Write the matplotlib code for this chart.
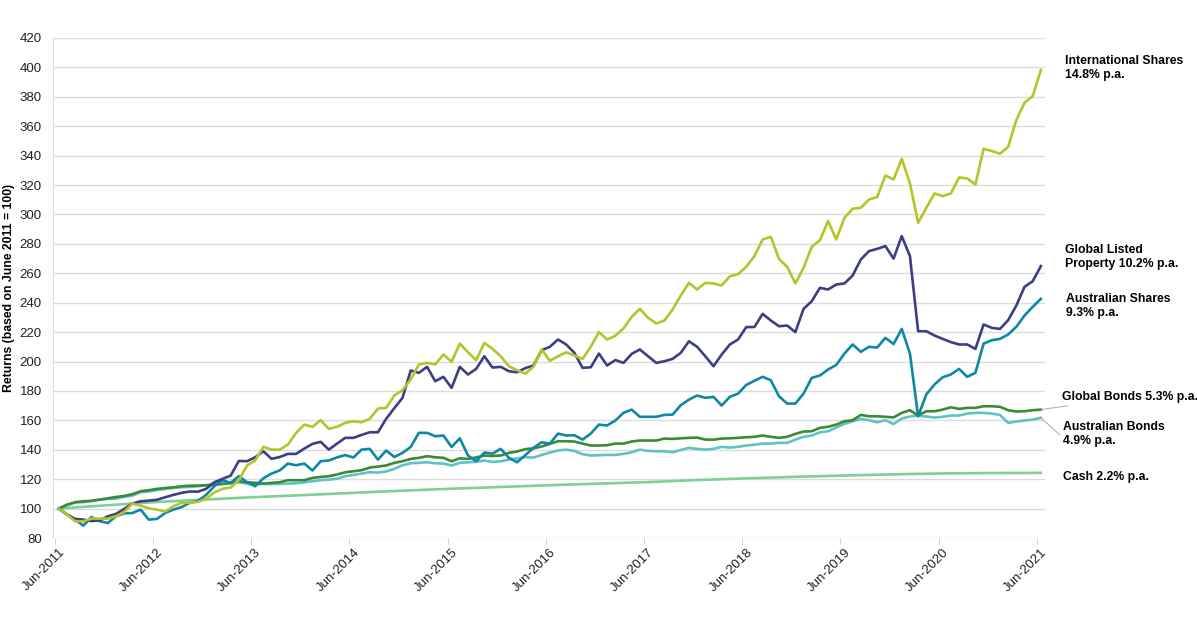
import matplotlib.pyplot as plt
import numpy as np

plt.rcParams['font.family'] = ['Liberation Sans', 'DejaVu Sans']

# monthly index values, Jun-2011 = 100 (121 months to Jun-2021)
intl_shares = [
    100, 96, 91.4, 91.4, 93.2, 93.2, 93.2, 94.8, 97.7, 103.4, 102, 100.2,
    99.3, 98, 101.6, 103.9, 104, 104.5, 106.6, 111, 113.4, 114.3, 119.3, 129.3,
    132.7, 142, 140.1, 140.1, 143.5, 151.5, 157.1, 155.6, 160.1, 154.2, 155.6, 158.3,
    159.4, 158.7, 161, 168, 168.5, 176.9, 180.5, 187.8, 198, 199.1, 198, 204.8,
    199.8, 212.2, 206.3, 200.9, 212.7, 208.6, 203.6, 196.8, 194.1, 191.8, 196.4, 208.2,
    200.5, 203.6, 206.3, 204.1, 201.8, 210, 220, 215, 217.5, 222.5, 230.4, 235.8,
    229.7, 225.9, 227.9, 235.4, 244.9, 253.5, 249, 253.5, 253.1, 251.7, 258, 259.4,
    264.4, 271.7, 283, 284.8, 269.8, 264.4, 253.1, 263.7, 278, 282.5, 295.5, 283,
    297.7, 303.9, 304.5, 310.2, 311.8, 326.5, 323.8, 337.9, 321.1, 294.3, 304.5, 314.3,
    312.5, 314.3, 325.2, 324.5, 320.4, 344.7, 343.1, 341.3, 346, 364.2, 376, 380.5,
    398.2]

global_property = [
    100, 96, 93, 92.5, 91.5, 92, 94.8, 96.4, 99.8, 103.4, 105, 105.4,
    106, 107.7, 109.3, 110.7, 111.6, 111.5, 113.4, 117.9, 120.2, 122.4, 132.4, 132.2,
    134.9, 139, 133.8, 135.1, 137.2, 137.2, 140.8, 144, 145.4, 140.1, 144.2, 148.1,
    148.1, 150.1, 151.9, 151.9, 161, 168.3, 175.3, 193.9, 192.3, 196.4, 186.6, 189.6,
    182.1, 196.4, 191.2, 195, 203.6, 195.9, 196.4, 193.4, 192.7, 195.5, 197.3, 207.7,
    210, 215, 211.6, 205.9, 195.7, 196.1, 205.4, 197.3, 201, 199.1, 205.2, 208.2,
    203.6, 199.1, 200.2, 201.8, 205.9, 213.8, 210, 203.6, 196.8, 204.8, 211.6, 215,
    223.4, 223.5, 232.4, 227.9, 224, 224.5, 220, 235.8, 241, 250.1, 249, 252.4,
    253.1, 258.5, 269.4, 275.1, 276.6, 278.5, 270, 285.3, 271.7, 220.6, 220.6, 217.7,
    215.4, 213.2, 211.6, 211.6, 208.6, 225.2, 222.9, 222.2, 228.1, 238.1, 250.8, 254.6,
    264.9]

aus_shares = [
    100, 96, 92.5, 88.4, 94.3, 91.4, 90.2, 94.8, 96.8, 97, 99.3, 92.5,
    93, 97, 99.3, 101, 103.9, 105.2, 109.3, 115.2, 119.3, 117.5, 122, 117.9,
    115.2, 120.6, 123.8, 126, 130.6, 129.5, 130.6, 125.9, 132.2, 132.7, 134.8, 136.4,
    134.7, 140.1, 140.6, 133.3, 139.5, 135.1, 137.9, 141.9, 151.5, 151.5, 149.2, 149.7,
    141.9, 147.8, 136.1, 132.2, 138.1, 137.4, 140.6, 134.5, 131.5, 136.3, 141.3, 145.1,
    144.2, 151, 149.7, 149.9, 146.9, 151, 157.1, 156.5, 159.9, 165.1, 167.3, 162.4,
    162.4, 162.4, 163.7, 163.9, 170.3, 174.1, 176.9, 175.3, 176, 170.1, 176, 178.2,
    184.1, 186.9, 189.6, 187.3, 176.4, 171.4, 171.4, 178.2, 188.9, 190.5, 194.6, 197.7,
    205.4, 211.6, 206.6, 210, 209.5, 216.1, 211.9, 222.2, 205.4, 162.8, 177.6, 184.4,
    189.3, 191.2, 195, 189.6, 192.3, 212.2, 214.5, 215.4, 218.4, 223.6, 231.3, 237.2,
    242.6]

global_bonds = [
    100, 102.7, 104.3, 105, 105.2, 106.1, 107, 107.9, 108.6, 109.8, 111.8, 112.5,
    113.4, 114, 114.5, 115.2, 115.6, 115.6, 115.9, 116.3, 116.8, 117.5, 118.6, 117.9,
    117.5, 117, 117.5, 117.9, 119.3, 119.3, 119.3, 120.9, 121.5, 122, 123.2, 124.7,
    125.4, 126.1, 127.9, 128.6, 129.3, 131.1, 132.2, 133.8, 134.5, 135.6, 134.9, 134.5,
    132.2, 134.2, 133.8, 134.8, 136, 135.8, 136.1, 137.9, 138.8, 140.4, 141, 142.2,
    144, 145.8, 145.8, 145.6, 144.2, 142.9, 142.9, 143.1, 144.2, 144.2, 145.6, 146.3,
    146.3, 146.3, 147.6, 147.4, 147.8, 148.1, 148.3, 146.9, 146.9, 147.6, 147.8, 148.1,
    148.5, 148.8, 149.7, 148.8, 148.1, 148.8, 150.8, 152.4, 152.6, 154.9, 155.6, 157.1,
    159.4, 160.1, 163.7, 162.8, 162.8, 162.4, 162, 165.1, 166.9, 163.3, 166.2, 166.2,
    167.3, 168.9, 167.8, 168.5, 168.5, 169.6, 169.6, 169.2, 166.9, 166, 166.2, 166.9,
    167.3]

aus_bonds = [
    100, 102, 104.3, 104.3, 105.4, 106.1, 106.6, 106.8, 108, 108.8, 111.1, 111.6,
    112.5, 113.4, 114, 114.5, 114.7, 115.2, 115.9, 116.3, 116.8, 117, 117.9, 117,
    116.3, 116.8, 116.6, 116.8, 117, 117.2, 117.9, 118.6, 119.3, 119.7, 120.3, 122,
    122.9, 123.8, 124.7, 124.5, 125.2, 127, 129.5, 130.8, 131.1, 131.5, 130.8, 130.6,
    129.3, 131.1, 131.5, 131.8, 132.7, 131.7, 132.2, 133.3, 134.2, 134.9, 134.7, 136.5,
    138.1, 139.5, 140.1, 139.2, 137, 136.1, 136.3, 136.5, 136.5, 137.2, 138.3, 140.1,
    139.2, 139, 139, 138.3, 139.9, 141.3, 140.6, 140.1, 140.6, 142, 141.5, 142,
    142.9, 143.4, 144.2, 144.2, 144.7, 144.7, 146.9, 148.8, 149.7, 151.9, 152.6, 155.1,
    157.6, 159.4, 161, 160.1, 158.7, 160.1, 157.5, 161.3, 162.6, 163.3, 162.6, 161.9,
    162.4, 163.3, 163.3, 164.6, 165.1, 165.1, 164.6, 163.7, 158.3, 159.2, 159.9, 160.5,
    161.7]

# cash is a smooth line, read every 6 months
cash_months = [0, 6, 12, 18, 24, 30, 36, 42, 48, 54, 60, 66, 72, 78, 84, 90, 96, 102, 108, 114, 120]
cash = [100, 102.3, 104.5, 106.2, 107.8, 109.2, 110.7, 112.2, 113.5, 114.7, 115.9,
        117, 118, 119.4, 120.6, 121.6, 122.5, 123.3, 123.9, 124.2, 124.3]

years = [str(y) for y in range(2011, 2022)]
tick_labels = ['Jun-' + y for y in years]

months = np.arange(len(intl_shares))

fig = plt.figure(figsize=(11.97, 6.28), dpi=100)
ax = fig.add_axes([0.0443, 0.1433, 0.8287, 0.7962])

ax.plot(cash_months, cash, color='#80cf99', lw=1.9)
ax.plot(months, aus_bonds, color='#5fc2c6', lw=1.9)
ax.plot(months, global_bonds, color='#3b8a35', lw=1.9)
ax.plot(months, aus_shares, color='#0f87a6', lw=1.9)
ax.plot(months, global_property, color='#3d3f84', lw=1.9)
ax.plot(months, intl_shares, color='#b5c42a', lw=1.9)

ax.set_xlim(-0.7, 120.5)
ax.set_ylim(80, 420)
ax.set_yticks(np.arange(80, 421, 20))
ax.yaxis.grid(True, color='#dcdcdc', lw=1)
ax.set_axisbelow(True)
for s in ['top', 'right', 'bottom']:
    ax.spines[s].set_visible(False)
ax.spines['left'].set_color('#dcdcdc')
ax.tick_params(axis='y', length=0, pad=8, labelsize=9.5, labelcolor='#222222')

ax.set_xticks(np.arange(0, 121, 12))
ax.set_xticklabels(tick_labels, rotation=45, ha='right', va='top',
                   rotation_mode='anchor', fontsize=9.5, color='#222222')
ax.tick_params(axis='x', length=0, pad=6)
ax.set_xticks(np.arange(-0.5, 121, 12), minor=True)
ax.tick_params(axis='x', which='minor', length=4, color='#cccccc')

ax.set_ylabel('Returns (based on June 2011 = 100)', fontsize=8.8, fontweight='bold')
ax.yaxis.set_label_coords(-0.038, 0.5)

H = 628
fs = 8.8
labels = [
    ('International Shares\n14.8% p.a.', 1065, 68),
    ('Global Listed\nProperty 10.2% p.a.', 1065, 257),
    ('Australian Shares\n9.3% p.a.', 1066, 306),
    ('Australian Bonds\n4.9% p.a.', 1063, 434),
    ('Cash 2.2% p.a.', 1063, 477),
]
for txt, px, py in labels:
    fig.text(px / 1197, 1 - py / H, txt, fontsize=fs, fontweight='bold',
             va='center', ha='left', linespacing=1.3)

ax.annotate('Global Bonds 5.3% p.a.', xy=(120, global_bonds[-1]), xycoords='data',
            xytext=(1062, H - 397), textcoords='figure pixels',
            fontsize=fs, fontweight='bold', va='center', ha='left',
            arrowprops=dict(arrowstyle='-', color='#aaaaaa', lw=0.7, shrinkA=0, shrinkB=0))
ax.annotate('', xy=(120, aus_bonds[-1]), xycoords='data',
            xytext=(1060, H - 435), textcoords='figure pixels',
            arrowprops=dict(arrowstyle='-', color='#aaaaaa', lw=0.7, shrinkA=0, shrinkB=0))

fig.savefig('out.png', dpi=100)
